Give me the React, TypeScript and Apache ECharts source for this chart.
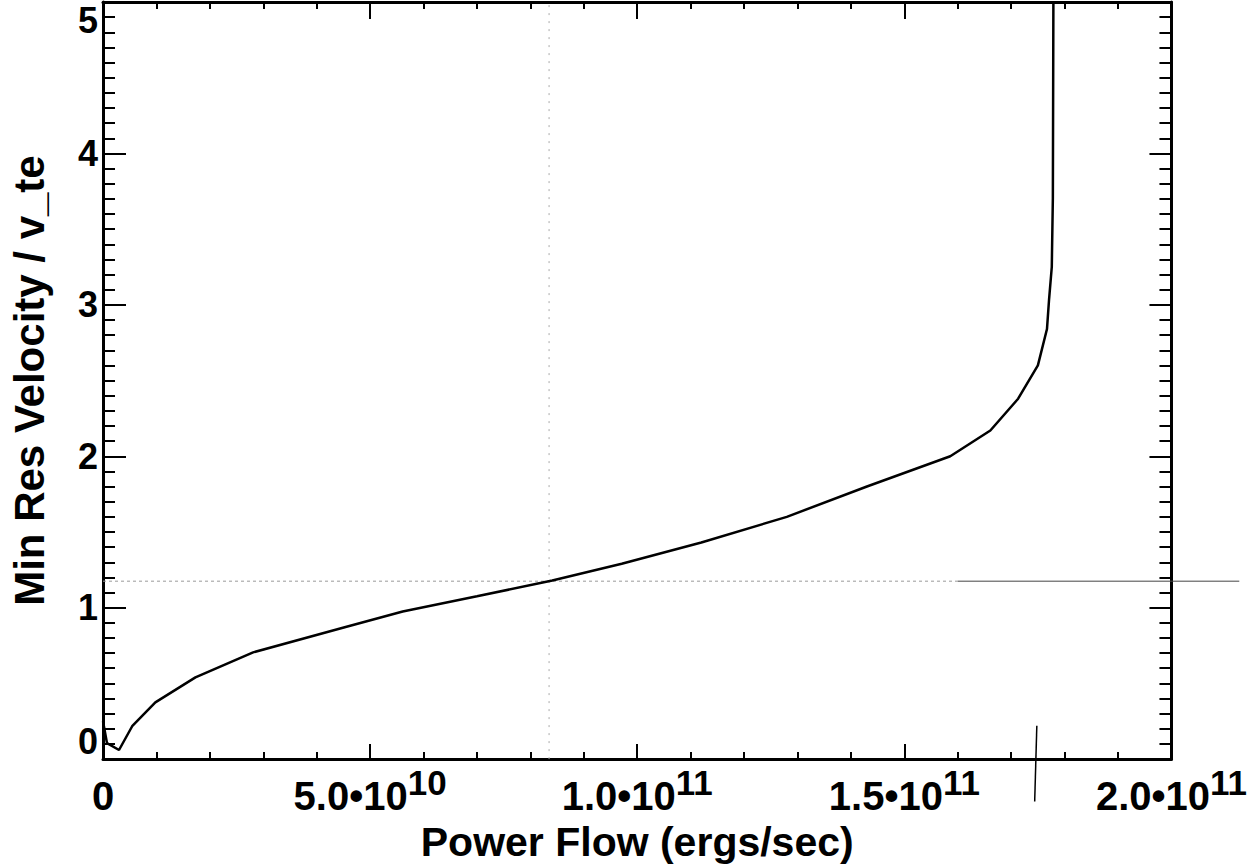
import React, { useEffect, useRef } from "react";
import * as echarts from "echarts";

// Main curve: power flow (ergs/sec) vs min resonant velocity / v_te
const powerFlow = [
  0, 0.075e10, 0.3e10, 0.546e10, 0.98e10, 1.73e10, 2.81e10, 4.49e10, 5.61e10,
  7.0e10, 8.41e10, 9.71e10, 11.2e10, 12.8e10, 14.3e10, 15.86e10, 16.61e10,
  17.13e10, 17.5e10, 17.67e10, 17.71e10, 17.76e10, 17.78e10, 17.79e10,
];
const minResVelocity = [
  0.25, 0.105, 0.06, 0.217, 0.375, 0.54, 0.705, 0.867, 0.975, 1.075, 1.18,
  1.29, 1.43, 1.6, 1.8, 2.0, 2.17, 2.38, 2.6, 2.84, 3.04, 3.25, 3.7, 5.0,
];

// Reference lines
const refHLineY = 1.175;
const refHLineXA = [0, 1.6e11];
const refHLineXB = [1.6e11, 2.127e11];
const refVLineX = 8.35e10;
const refVLineY = [0, 5];
const markerX = [1.748e11, 1.744e11];
const markerY = [0.22, -0.28];

// Axis ticks / labels
const xTickValues = [0, 5e10, 1e11, 1.5e11, 2e11];
const xTickMantissa = ["0", "5.0•10", "1.0•10", "1.5•10", "2.0•10"];
const xTickExponent = ["", "10", "11", "11", "11"];
const yTickLabels = ["0", "1", "2", "3", "4", "5"];

const FONT = "'Liberation Sans', Arial, Helvetica, sans-serif";

export default function App() {
  const ref = useRef<HTMLDivElement>(null);

  useEffect(() => {
    if (!ref.current) return;
    const chart = echarts.init(ref.current, null, { renderer: "svg" });

    const curveData = powerFlow.map((x, i) => [x, minResVelocity[i]]);
    const hA = refHLineXA.map((x) => [x, refHLineY]);
    const vLine = refVLineY.map((y) => [refVLineX, y]);
    const marker = markerX.map((x, i) => [x, markerY[i]]);

    const black = "#000";
    const baseX = {
      type: "value" as const,
      min: 0,
      max: 2e11,
      interval: 5e10,
      splitLine: { show: false },
      minorSplitLine: { show: false },
      axisLine: { show: true, onZero: false, lineStyle: { color: black, width: 3 } },
    };
    const baseY = {
      type: "value" as const,
      min: 0,
      max: 5,
      interval: 1,
      splitLine: { show: false },
      minorSplitLine: { show: false },
      axisLine: { show: true, onZero: false, lineStyle: { color: black, width: 3 } },
    };

    chart.setOption({
      animation: false,
      backgroundColor: "#fff",
      grid: { left: 99, right: 78, top: 2, bottom: 106, containLabel: false },
      xAxis: [
        {
          ...baseX,
          position: "bottom",
          axisTick: { show: true, inside: true, length: 15, lineStyle: { color: black, width: 2 } },
          minorTick: { show: true, splitNumber: 5, length: 7, lineStyle: { color: black, width: 2 } },
          axisLabel: {
            margin: 6,
            showMinLabel: true,
            showMaxLabel: true,
            fontSize: 40,
            fontWeight: "bold",
            fontFamily: FONT,
            color: black,
            formatter: (v: number) => {
              const i = xTickValues.findIndex((t) => Math.abs(t - v) < 1e6);
              if (i < 0) return "";
              const e = xTickExponent[i];
              return e ? `{m|${xTickMantissa[i]}}{s|${e}}` : `{m|${xTickMantissa[i]}}`;
            },
            rich: {
              m: { fontSize: 40, fontWeight: "bold", fontFamily: FONT, color: black, lineHeight: 62 },
              s: { fontSize: 35, fontWeight: "bold", fontFamily: FONT, color: black, lineHeight: 26, verticalAlign: "top" },
            },
          },
          name: "Power Flow (ergs/sec)",
          nameLocation: "middle",
          nameGap: 52,
          nameTextStyle: { fontSize: 41, fontWeight: "bold", fontFamily: FONT, color: black },
        },
        {
          ...baseX,
          position: "top",
          axisLabel: { show: false },
          axisTick: { show: true, inside: true, length: 17, lineStyle: { color: black, width: 2 } },
          minorTick: { show: true, splitNumber: 5, length: 7, lineStyle: { color: black, width: 2 } },
        },
      ],
      yAxis: [
        {
          ...baseY,
          position: "left",
          axisTick: { show: true, inside: true, length: 23, lineStyle: { color: black, width: 2 } },
          minorTick: { show: true, splitNumber: 10, length: 12, lineStyle: { color: black, width: 2 } },
          axisLabel: {
            margin: 5,
            fontSize: 36,
            fontWeight: "bold",
            fontFamily: FONT,
            color: black,
            verticalAlignMinLabel: "bottom",
            verticalAlignMaxLabel: "top",
            formatter: (v: number) => yTickLabels[Math.round(v)] ?? "",
          },
          name: "Min Res Velocity / v_te",
          nameLocation: "middle",
          nameGap: 53,
          nameRotate: 90,
          nameTextStyle: { fontSize: 42, fontWeight: "bold", fontFamily: FONT, color: black },
        },
        {
          ...baseY,
          position: "right",
          axisLabel: { show: false },
          axisTick: { show: true, inside: true, length: 22, lineStyle: { color: black, width: 2 } },
          minorTick: { show: true, splitNumber: 10, length: 12, lineStyle: { color: black, width: 2 } },
        },
      ],
      series: [
        {
          type: "line",
          data: vLine,
          symbol: "none",
          clip: false,
          silent: true,
          lineStyle: { color: "#aaa", width: 1, type: [2, 6] },
        },
        {
          type: "line",
          data: hA,
          symbol: "none",
          clip: false,
          silent: true,
          lineStyle: { color: "#999", width: 1, type: [3, 3] },
        },
        {
          type: "line",
          data: curveData,
          symbol: "none",
          clip: false,
          lineStyle: { color: black, width: 2.5 },
        },
        {
          type: "line",
          data: marker,
          symbol: "none",
          clip: false,
          lineStyle: { color: black, width: 1.5 },
        },
      ],
    });

    // Horizontal reference segment that runs past the right frame: converted through the axes' scales
    const p1 = chart.convertToPixel({ xAxisIndex: 0, yAxisIndex: 0 }, [refHLineXB[0], refHLineY]) as number[];
    const p2 = chart.convertToPixel({ xAxisIndex: 0, yAxisIndex: 0 }, [refHLineXB[1], refHLineY]) as number[];
    chart.setOption({
      graphic: [
        {
          type: "line",
          silent: true,
          shape: { x1: p1[0], y1: p1[1], x2: p2[0], y2: p2[1] },
          style: { stroke: "#444", lineWidth: 1 },
          z: 10,
        },
      ],
    });

    return () => chart.dispose();
  }, []);

  return (
    <div
      ref={ref}
      style={{ position: "fixed", left: 0, top: 0, width: 1250, height: 867, background: "#fff" }}
    />
  );
}
